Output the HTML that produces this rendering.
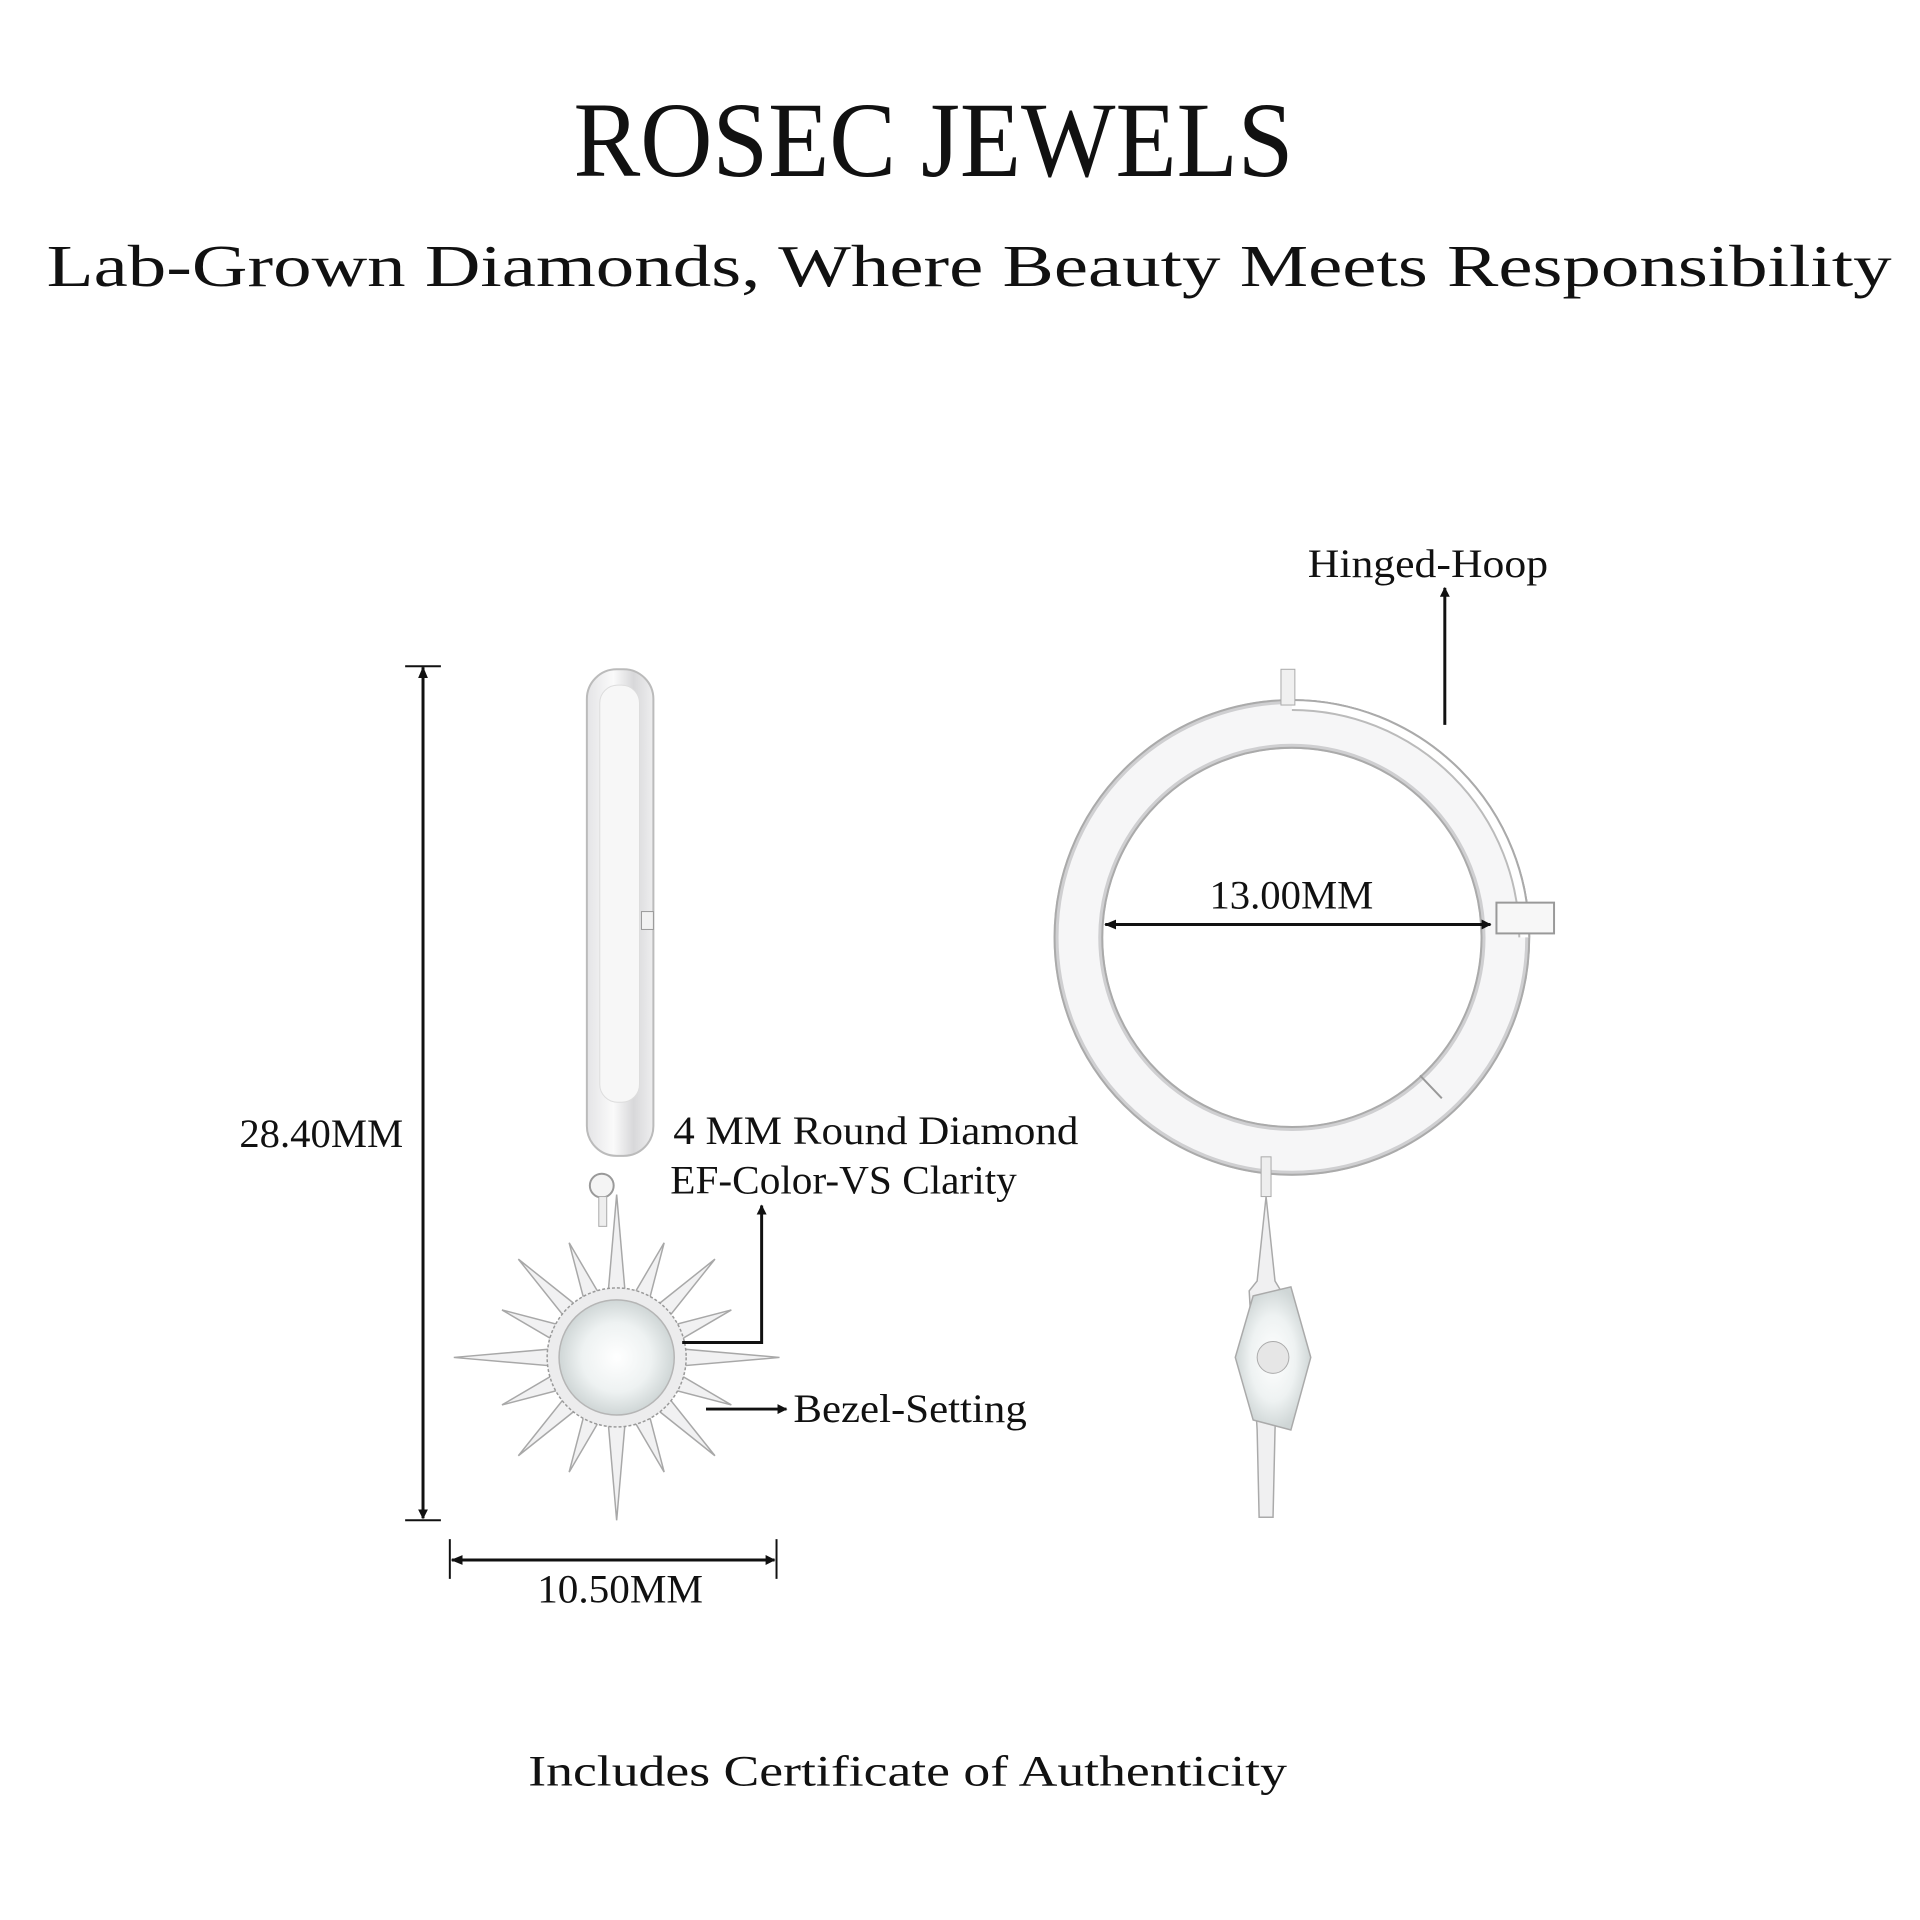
<!DOCTYPE html>
<html><head><meta charset="utf-8"><style>
html,body{margin:0;padding:0;background:#fff;width:1920px;height:1920px;overflow:hidden}
svg{display:block}
text{font-family:"Liberation Serif","DejaVu Serif",serif;fill:#111}
</style></head><body>
<svg width="1920" height="1920" viewBox="0 0 1920 1920" xmlns="http://www.w3.org/2000/svg">
<defs>
<linearGradient id="g1" x1="0" x2="1"><stop offset="0" stop-color="#e4e4e6"/><stop offset="0.4" stop-color="#fafafa"/><stop offset="0.7" stop-color="#d8d8da"/><stop offset="1" stop-color="#eeeeef"/></linearGradient>
<radialGradient id="dg"><stop offset="0" stop-color="#ffffff"/><stop offset="0.6" stop-color="#eef2f2"/><stop offset="1" stop-color="#cfd6d6"/></radialGradient>
<marker id="ar" markerWidth="10" markerHeight="10" refX="9" refY="5" orient="auto" markerUnits="userSpaceOnUse"><path d="M0,0 L10,5 L0,10z" fill="#111"/></marker>
<marker id="ars" markerWidth="12" markerHeight="10" refX="1" refY="5" orient="auto" markerUnits="userSpaceOnUse"><path d="M12,0 L0,5 L12,10z" fill="#111"/></marker>
</defs>
<g transform="scale(0.993)">
<text x="940" y="177" font-size="108" text-anchor="middle" textLength="725" lengthAdjust="spacingAndGlyphs">ROSEC JEWELS</text>
<text x="976" y="288" font-size="60" text-anchor="middle" textLength="1858" lengthAdjust="spacingAndGlyphs">Lab-Grown Diamonds, Where Beauty Meets Responsibility</text>

<rect x="591" y="674" width="67" height="490" rx="30" fill="url(#g1)" stroke="#bbb" stroke-width="2"/>
<rect x="604" y="690" width="40" height="420" rx="18" fill="#f7f7f7" stroke="#ddd"/>
<rect x="646" y="918" width="12" height="18" fill="#f2f2f2" stroke="#999"/>
<circle cx="606" cy="1194" r="12" fill="#f4f4f4" stroke="#999" stroke-width="2"/>
<rect x="603" y="1205" width="8" height="30" fill="#eee" stroke="#aaa"/>

<g transform="translate(621,1367)" stroke="#a8a8a8" stroke-width="1.5" fill="#f1f1f2">
<path id="ray" d="M0,-164 L9,-60 L-9,-60z"/>
<use href="#ray" transform="rotate(90)"/><use href="#ray" transform="rotate(180)"/><use href="#ray" transform="rotate(270)"/>
<path d="M0,-125 L9,-60 L-9,-60z" transform="rotate(22.5)"/><path d="M0,-125 L9,-60 L-9,-60z" transform="rotate(67.5)"/><path d="M0,-125 L9,-60 L-9,-60z" transform="rotate(112.5)"/><path d="M0,-125 L9,-60 L-9,-60z" transform="rotate(157.5)"/>
<path d="M0,-125 L9,-60 L-9,-60z" transform="rotate(202.5)"/><path d="M0,-125 L9,-60 L-9,-60z" transform="rotate(247.5)"/><path d="M0,-125 L9,-60 L-9,-60z" transform="rotate(292.5)"/><path d="M0,-125 L9,-60 L-9,-60z" transform="rotate(337.5)"/>
<path d="M0,-140 L9,-60 L-9,-60z" transform="rotate(45)"/><path d="M0,-140 L9,-60 L-9,-60z" transform="rotate(135)"/><path d="M0,-140 L9,-60 L-9,-60z" transform="rotate(225)"/><path d="M0,-140 L9,-60 L-9,-60z" transform="rotate(315)"/>
<circle r="70" fill="#ececed" stroke="#999" stroke-dasharray="3 2"/>
<circle r="58" fill="url(#dg)" stroke="#b5b5b5"/>
</g>

<line x1="426" y1="672" x2="426" y2="1529" stroke="#111" stroke-width="3" marker-end="url(#ar)" marker-start="url(#ars)"/>
<line x1="408" y1="671" x2="444" y2="671" stroke="#111" stroke-width="2"/>
<line x1="408" y1="1531" x2="444" y2="1531" stroke="#111" stroke-width="2"/>
<text x="241" y="1155" font-size="40" textLength="165" lengthAdjust="spacingAndGlyphs">28.40MM</text>
<line x1="455" y1="1571" x2="780" y2="1571" stroke="#111" stroke-width="3" marker-end="url(#ar)" marker-start="url(#ars)"/>
<line x1="453" y1="1550" x2="453" y2="1590" stroke="#111" stroke-width="2"/>
<line x1="782" y1="1550" x2="782" y2="1590" stroke="#111" stroke-width="2"/>
<text x="541" y="1614" font-size="40" textLength="167" lengthAdjust="spacingAndGlyphs">10.50MM</text>

<text x="678" y="1152" font-size="40" textLength="408" lengthAdjust="spacingAndGlyphs">4 MM Round Diamond</text>
<text x="675" y="1202" font-size="40" textLength="349" lengthAdjust="spacingAndGlyphs">EF-Color-VS Clarity</text>
<polyline points="687,1352 767,1352 767,1214" fill="none" stroke="#111" stroke-width="3" marker-end="url(#ar)"/>
<line x1="711" y1="1419" x2="792" y2="1419" stroke="#111" stroke-width="3" marker-end="url(#ar)"/>
<text x="799" y="1432" font-size="40" textLength="235" lengthAdjust="spacingAndGlyphs">Bezel-Setting</text>

<circle cx="1301" cy="944" r="215" fill="none" stroke="#cfcfd1" stroke-width="50"/>
<circle cx="1301" cy="944" r="215" fill="none" stroke="#f6f6f7" stroke-width="40"/>
<circle cx="1301" cy="944" r="239" fill="none" stroke="#aaa" stroke-width="2"/>
<circle cx="1301" cy="944" r="191" fill="none" stroke="#aaa" stroke-width="2"/>
<path d="M1301,705 A239,239 0 0 1 1540,944 L1530,944 A229,229 0 0 0 1301,715z" fill="#fff"/>
<path d="M1301,705 A239,239 0 0 1 1540,944" fill="none" stroke="#aaa" stroke-width="2"/>
<path d="M1301,715 A229,229 0 0 1 1530,944" fill="none" stroke="#bbb" stroke-width="2"/>
<rect x="1290" y="674" width="14" height="36" fill="#f0f0f0" stroke="#aaa"/>
<rect x="1507" y="909" width="58" height="31" fill="#f7f7f7" stroke="#999" stroke-width="2"/>
<line x1="1430" y1="1083" x2="1452" y2="1106" stroke="#999" stroke-width="2"/>
<line x1="1455" y1="730" x2="1455" y2="592" stroke="#111" stroke-width="3" marker-end="url(#ar)"/>
<text x="1317" y="581" font-size="40" textLength="242" lengthAdjust="spacingAndGlyphs">Hinged-Hoop</text>
<line x1="1113" y1="931" x2="1501" y2="931" stroke="#111" stroke-width="3" marker-end="url(#ar)" marker-start="url(#ars)"/>
<text x="1218" y="915" font-size="40" textLength="165" lengthAdjust="spacingAndGlyphs">13.00MM</text>

<rect x="1270" y="1165" width="10" height="40" fill="#eee" stroke="#aaa"/>
<path d="M1275,1205 L1284,1290 L1290,1300 L1284,1440 L1282,1528 L1268,1528 L1266,1440 L1258,1300 L1266,1290z" fill="#f0f0f1" stroke="#aaa" stroke-width="1.5"/>
<path d="M1262,1305 L1244,1367 L1262,1430 L1300,1440 L1320,1367 L1300,1296z" fill="url(#dg)" stroke="#aaa" stroke-width="1.5"/>
<circle cx="1282" cy="1367" r="16" fill="#e6e6e6" stroke="#aaa"/>

<text x="532" y="1798" font-size="44" textLength="764" lengthAdjust="spacingAndGlyphs">Includes Certificate of Authenticity</text>
</g>
</svg>
</body></html>
